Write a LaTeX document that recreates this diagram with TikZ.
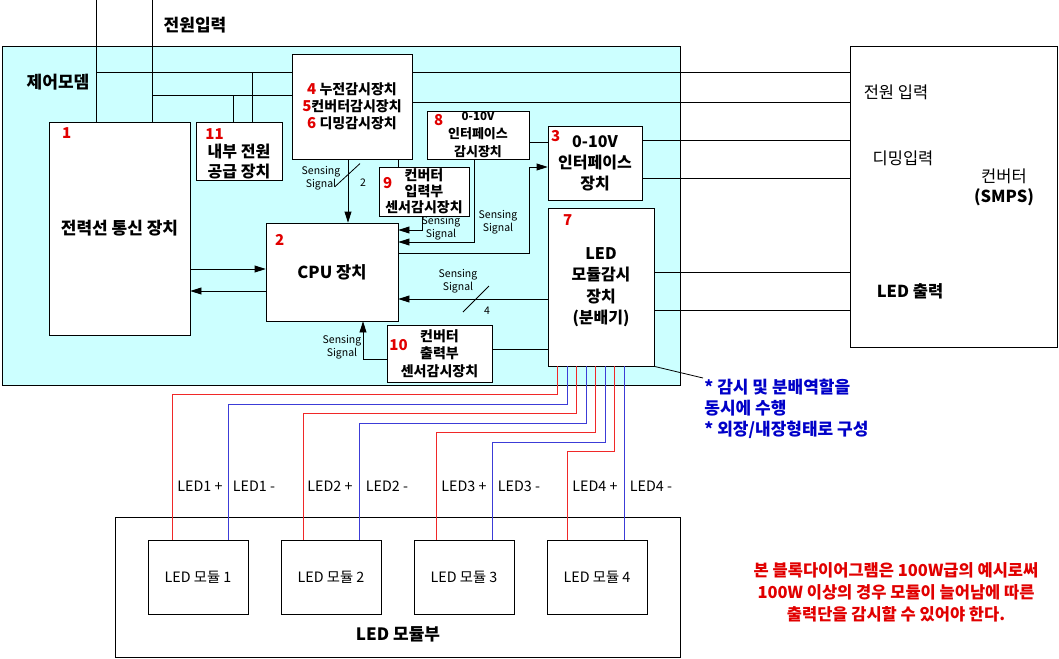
\documentclass[tikz,border=0pt]{standalone}
\usepackage{fontspec}
\setmainfont{Noto Sans CJK KR}
\usetikzlibrary{arrows.meta}
\definecolor{bgcyan}{RGB}{204,255,255}
\definecolor{numred}{RGB}{225,0,0}
\definecolor{wirered}{RGB}{240,40,40}
\definecolor{wireblue}{RGB}{60,60,215}
\definecolor{noteblue}{RGB}{0,0,200}
\tikzset{
	box/.style={draw, fill=white, inner sep=0pt},
	num/.style={text=numred, font=\bfseries\fontsize{15}{15}\selectfont, inner sep=0pt},
	lbl/.style={font=\bfseries\fontsize{16}{20}\selectfont, align=center},
	sig/.style={font=\fontsize{10.5}{12.5}\selectfont, align=center, inner sep=0pt},
	arr/.style={-{Triangle[length=11pt,width=7pt]}},
	plus/.style={wirered},
	minus/.style={wireblue},
}
\begin{document}
\begin{tikzpicture}[x=1pt, y=-1pt, line width=0.8pt]
	\useasboundingbox (0,0) rectangle (1059,658);
	%control modem area
	\draw[fill=bgcyan] (2,46) rectangle (680,385);
	\node[lbl, font=\bfseries\fontsize{17}{20}\selectfont] (modemlbl) at (58,82){제어모뎀};
	\node[lbl, font=\bfseries\fontsize{17}{20}\selectfont] (pwrlbl) at (195,25){전원입력};
	\coordinate (ctrltop) at (96,0);
	\coordinate (pwrtop) at (152,0);
	
	%blocks
	\node[box, lbl, font=\bfseries\fontsize{17}{20}\selectfont, minimum width=141pt, minimum height=213pt] (plc) at (119.5,228.5){전력선 통신 장치};
	\node[box, minimum width=86pt, minimum height=58pt] (psu) at (239,151){};
	\node[lbl] (psut) at ([yshift=-11pt]psu.center){내부 전원\\공급 장치};
	\node[box, lbl, font=\bfseries\fontsize{14}{17}\selectfont, minimum width=120pt, minimum height=105pt] (watch) at (352,106.5)
		{\textcolor{numred}{\fontsize{15}{17}\selectfont 4} 누전감시장치\\\textcolor{numred}{\fontsize{15}{17}\selectfont 5}컨버터감시장치\\\textcolor{numred}{\fontsize{15}{17}\selectfont 6} 디밍감시장치};
	\node[box, lbl, font=\bfseries\fontsize{13}{18}\selectfont, minimum width=102pt, minimum height=48pt] (vmon) at (478,135)
		{{\fontsize{11.5}{18}\selectfont 0-10V}\\인터페이스\\감시장치};
	\node[box, lbl, font=\bfseries\fontsize{16}{21}\selectfont, minimum width=94pt, minimum height=74pt] (iface) at (595,163)
		{0-10V\\인터페이스\\장치};
	\node[box, lbl, font=\bfseries\fontsize{14}{16}\selectfont, minimum width=90pt, minimum height=49pt] (inmon) at (424,191.5)
		{컨버터\\입력부\\센서감시장치};
	\node[box, lbl, font=\bfseries\fontsize{16.5}{19}\selectfont, minimum width=132pt, minimum height=98pt] (cpu) at (332,272){CPU 장치};
	\node[box, lbl, font=\bfseries\fontsize{16}{21.5}\selectfont, minimum width=106pt, minimum height=158pt] (mon) at (601,287)
		{LED\\모듈감시\\장치\\(분배기)};
	\node[box, lbl, font=\bfseries\fontsize{14}{17.5}\selectfont, minimum width=105pt, minimum height=57pt] (outmon) at (439.5,353.5)
		{컨버터\\출력부\\센서감시장치};
	
	%numbers
	\node[num] (n1) at ([shift={(18pt,-11pt)}]plc.north west){1};
	\node[num] (n11) at ([shift={(19pt,-12pt)}]psu.north west){11};
	\node[num] (n2) at ([shift={(14pt,-17pt)}]cpu.north west){2};
	\node[num] (n3) at ([shift={(8pt,-10pt)}]iface.north west){3};
	\node[num] (n7) at ([shift={(20pt,-12pt)}]mon.north west){7};
	\node[num] (n8) at ([shift={(12pt,-9pt)}]vmon.north west){8};
	\node[num] (n9) at ([shift={(9pt,-16pt)}]inmon.north west){9};
	\node[num] (n10) at ([shift={(12pt,-20pt)}]outmon.north west){10};
	
	%converter
	\node[box, minimum width=207pt, minimum height=301pt] (conv) at (953.5,196.5){};
	\node[font=\fontsize{16.5}{17}\selectfont] (pin) at (896,92){전원 입력};
	\node[font=\fontsize{16.5}{17}\selectfont] (dimin) at (903,158){디밍입력};
	\node[align=center, font=\fontsize{16.5}{20}\selectfont] (convt) at (1004,187){컨버터\\\textbf{(SMPS)}};
	\node[font=\bfseries\fontsize{16.5}{17}\selectfont] (ledout) at (910,291){LED 출력};
	
	%power and modem lines
	\coordinate (ac1) at ([yshift=34.5pt]watch.west);
	\coordinate (ac2) at ([yshift=11.5pt]watch.west);
	\draw (ctrltop) -- (ctrltop |- plc.north);
	\draw (pwrtop) -- (pwrtop |- plc.north);
	\draw (ctrltop |- ac1) -- (ac1);
	\draw (pwrtop |- ac2) -- (ac2);
	\draw ([xshift=-6pt]psu.north) -- ([xshift=-6pt]psu.north |- ac2);
	\draw ([xshift=13pt]psu.north) -- ([xshift=13pt]psu.north |- ac1);
	
	%to converter
	\foreach \src/\dy in {watch/34.5, watch/4.5, iface/23, iface/-15, mon/15, mon/-23}{
		\coordinate (o) at ([yshift=\dy pt]\src.east);
		\draw (o) -- (o -| conv.west);
	}
	
	%sensing signals
	\draw[arr] ([xshift=-4pt]watch.south) -- ([xshift=-4pt]watch.south |- cpu.north) coordinate[pos=0.24] (s2);
	\draw ([shift={(-13pt,-12pt)}]s2) -- ([shift={(12pt,11pt)}]s2);
	\node[sig] (sg2) at (321,178){Sensing\\Signal};
	\node[sig] (k2) at (363,183){2};
	\draw ([xshift=46pt]watch.south) -- ([xshift=46pt]watch.south |- inmon.north);
	\draw[arr] ([xshift=-2pt]inmon.south) |- ([yshift=42pt]cpu.east);
	\node[sig] (sg9) at (441,228){Sensing\\Signal};
	\draw[arr] ([xshift=-4pt]vmon.south) |- ([yshift=30pt]cpu.east);
	\node[sig] (sg8) at (498,222){Sensing\\Signal};
	\coordinate (v1) at ([yshift=-7pt]vmon.east);
	\draw (v1) -- (v1 -| iface.west);
	\coordinate (iin) at ([yshift=-4pt]iface.west);
	\draw[arr] ([yshift=19pt]cpu.east) -| (vmon.east |- iin) -- (iin);
	
	\coordinate (c1) at ([yshift=3pt]cpu.west);
	\coordinate (c2) at ([yshift=-19pt]cpu.west);
	\draw[arr] (plc.east |- c1) -- (c1);
	\draw[arr] (c2) -- (plc.east |- c2);
	
	\coordinate (c4) at ([yshift=-27pt]cpu.east);
	\draw[arr] (mon.west |- c4) -- (c4) coordinate[pos=0.48] (s4);
	\draw ([shift={(-13pt,-13pt)}]s4) -- ([shift={(13pt,13pt)}]s4);
	\node[sig] (sg7) at (458,281){Sensing\\Signal};
	\node[sig] (k4) at (487,311){4};
	
	\coordinate (o1) at ([yshift=4.5pt]outmon.east);
	\draw (o1) -- (o1 -| mon.west);
	\draw[arr] ([yshift=-5.5pt]outmon.west) -| ([xshift=31pt]cpu.south);
	\node[sig] (sg10) at (342,347){Sensing\\Signal};
	
	%note
	\node[anchor=north west, align=left, text=noteblue, inner sep=1pt, font=\bfseries\fontsize{17}{21}\selectfont] (note) at (703,378)
		{* 감시 및 분배역할을\\동시에 수행\\* 외장/내장형태로 구성};
	\draw (mon.south east) -- (note.north west);
	\node[align=center, text=numred, font=\bfseries\fontsize{16.5}{22}\selectfont] (rednote) at (896,592)
		{본 블록다이어그램은 100W급의 예시로써\\100W 이상의 경우 모듈이 늘어남에 따른\\출력단을 감시할 수 있어야 한다.};
	
	%led modules
	\node[draw, minimum width=565pt, minimum height=140pt] (ledunit) at (397.5,587){};
	\node[font=\bfseries\fontsize{17}{17}\selectfont] (ledunitlbl) at (398,634){LED 모듈부};
	\foreach \x [count=\i] in {198, 331, 464, 597}{
		\node[box, font=\fontsize{14.3}{15}\selectfont, minimum width=100pt, minimum height=74pt] (m\i) at (\x,577.5){LED 모듈 \i};
	}
	\foreach \dx/\drop/\mx/\m/\s in {-44/28/-26/m1/plus, -34/38/30/m1/minus, -25/47/-28/m2/plus, -15/57/28/m2/minus,
		-6/66/-28/m3/plus, 4/76/28/m3/minus, 13/85/-30/m4/plus, 23/0/27/m4/minus}{
		\draw[\s] ([xshift=\dx pt]mon.south) -- ++(0,\drop) -| ([xshift=\mx pt]\m.north);
	}
	\foreach \x/\t [count=\i] in {200/LED1 +, 254/LED1 -, 330/LED2 +, 387/LED2 -, 464/LED3 +, 519/LED3 -, 595/LED4 +, 651/LED4 -}{
		\node[font=\fontsize{14.3}{15}\selectfont] (wl\i) at (\x,486){\t};
	}
\end{tikzpicture}
\end{document}
